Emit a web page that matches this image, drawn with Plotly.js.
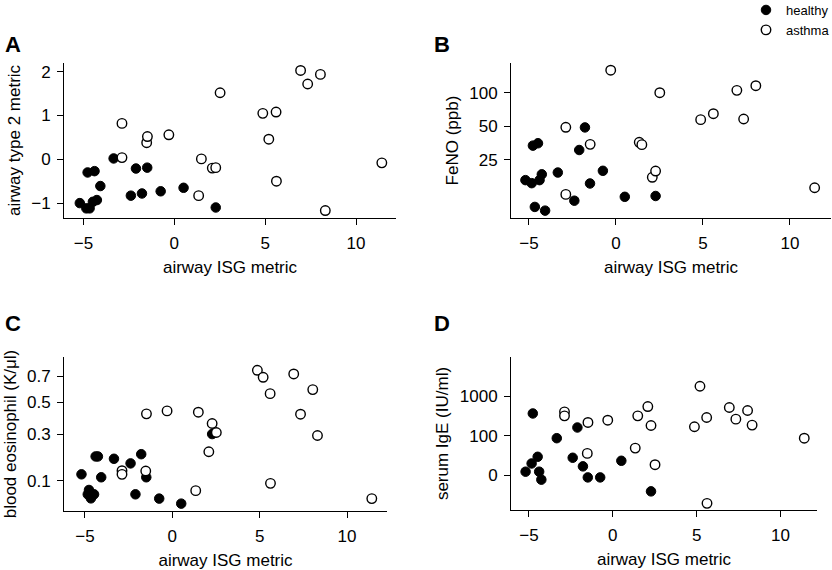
<!DOCTYPE html>
<html>
<head>
<meta charset="utf-8">
<script src="https://cdn.plot.ly/plotly-3.0.1.min.js"></script>
<style>
html,body{margin:0;padding:0;background:#fff;}
#chart{width:832px;height:570px;}
</style>
</head>
<body>
<div id="chart"></div>
<script>
// ---- data ----
var groups = ["healthy", "asthma"];

// airway ISG metric (x, shared by all panels)
var healthyISG = [-5.2, -4.84, -4.77, -4.66, -4.48, -4.39, -4.26, -4.07, -3.34, -2.39, -2.11, -1.78, -1.49, -0.75, 0.51, 2.28];
var asthmaISG  = [-2.88, -2.88, -1.52, -1.48, -0.3, 1.34, 1.49, 2.09, 2.28, 2.52, 4.87, 5.2, 5.6, 5.62, 6.95, 7.34, 8.04, 8.31, 11.42];

// A: airway type 2 metric
var healthyT2 = [-1.0, -1.12, -0.30, -1.12, -0.97, -0.27, -0.93, -0.61, 0.02, -0.83, -0.21, -0.78, -0.19, -0.73, -0.65, -1.10];
var asthmaT2  = [0.82, 0.04, 0.38, 0.52, 0.56, -0.83, 0.01, -0.20, -0.19, 1.52, 1.05, 0.46, 1.08, -0.50, 2.03, 1.72, 1.94, -1.17, -0.08];

// B: FeNO (ppb)
var healthyFeNO = [16.5, 15.5, 33.6, 9.5, 35.3, 16.5, 18.6, 8.8, 19.3, 10.8, 30.7, 48.9, 15.4, 20.0, 11.7, 11.9];
var asthmaFeNO  = [49, 12.3, null, 34.5, 159, 36, 34.3, 17.5, 19.9, 100, 57.4, null, 64.9, null, 105, 58.2, 115.5, null, 14.1];

// C: blood eosinophil (K/ul)
var healthyEos = [0.121, 0.0616, 0.0728, 0.052, 0.0616, 0.191, 0.191, 0.111, 0.181, 0.162, 0.0616, 0.201, 0.111, 0.0514, 0.0407, 0.301];
var asthmaEos  = [0.1339, 0.121, 0.1327, 0.4217, 0.4413, 0.071, 0.4326, 0.212, 0.3616, 0.3097, 0.751, 0.692, 0.563, 0.0917, 0.72, 0.4195, 0.5935, 0.2933, 0.0514];

// D: serum IgE (IU/ml), on the figure's log display scale
var healthyIgE = [12.4, 20, 366, null, 29.5, 12.4, 7.8, null, 87, 27.9, 162, 16.9, 8.9, 8.9, 23.4, 3.95];
var asthmaIgE  = [403, 319, 35.9, 217, 248, 48.9, 319, 548, 182, 18.6, 169, 1786, 290, 1.97, 518, 263, 436, 186, 87];

// tick labels
var xTicks = [-5, 0, 5, 10];
var t2Ticks = [-1, 0, 1, 2];
var fenoTicks = [25, 50, 100];
var eosTicks = [0.1, 0.3, 0.5, 0.7];
var igeTickVals = [10, 100, 1000];
var igeTickText = ["0", "100", "1000"];

// ---- drawing ----
var W = 832, H = 570;
function xd(a, b) { return [a / W, b / W]; }
function yd(top, bottom) { return [(H - bottom) / H, (H - top) / H]; }

var FONT = "Liberation Sans, Arial, Helvetica, sans-serif";
var MS = 9.5;

function mk(g) {
  if (g === "healthy") return {symbol: "circle", size: MS, color: "#000", line: {color: "#000", width: 1}};
  return {symbol: "circle", size: MS, color: "#fff", line: {color: "#000", width: 1.4}};
}

var sqrt = function (v) { return v === null ? null : Math.sqrt(v); };

var traces = [];
function add(xa, ya, hx, hy, ax, ay, show) {
  traces.push({type: "scatter", mode: "markers", name: groups[0], x: hx, y: hy, xaxis: ax, yaxis: ay,
    marker: mk("healthy"), showlegend: show, cliponaxis: false});
  traces.push({type: "scatter", mode: "markers", name: groups[1], x: xa, y: ya, xaxis: ax, yaxis: ay,
    marker: mk("asthma"), showlegend: show, cliponaxis: false});
}
add(asthmaISG, asthmaT2, healthyISG, healthyT2, "x", "y", true);
add(asthmaISG, asthmaFeNO, healthyISG, healthyFeNO, "x2", "y2", false);
add(asthmaISG, asthmaEos.map(sqrt), healthyISG, healthyEos.map(sqrt), "x3", "y3", false);
add(asthmaISG, asthmaIgE, healthyISG, healthyIgE, "x4", "y4", false);

function xaxis(dom, rng, anchor) {
  return {domain: dom, range: rng, anchor: anchor, showline: true, linecolor: "#000", linewidth: 1,
    ticks: "outside", ticklen: 6, tickwidth: 1, tickcolor: "#000", tickmode: "array", tickvals: xTicks,
    showgrid: false, zeroline: false, tickfont: {family: FONT, size: 17, color: "#000"},
    ticklabelstandoff: 4,
    title: {text: "airway ISG metric", font: {family: FONT, size: 17, color: "#000"}, standoff: 8}};
}
function yaxis(dom, rng, anchor, extra, title) {
  var a = {domain: dom, range: rng, anchor: anchor, showline: true, linecolor: "#000", linewidth: 1,
    ticks: "outside", ticklen: 6, tickwidth: 1, tickcolor: "#000", tickmode: "array",
    showgrid: false, zeroline: false, tickfont: {family: FONT, size: 17, color: "#000"},
    ticklabelstandoff: 3,
    title: {text: title, font: {family: FONT, size: 17, color: "#000"}, standoff: 6}};
  for (var k in extra) a[k] = extra[k];
  return a;
}

var layout = {
  width: W, height: H, margin: {l: 0, r: 0, t: 0, b: 0, autoexpand: false},
  paper_bgcolor: "#fff", plot_bgcolor: "#fff",
  font: {family: FONT, size: 17, color: "#000"},
  xaxis: xaxis(xd(64, 396), [-6.07, 12.2], "y"),
  yaxis: yaxis(yd(63, 218), [-1.34, 2.2], "x", {tickvals: t2Ticks}, "airway type 2 metric"),
  xaxis2: xaxis(xd(511, 831), [-6.03, 12.36], "y2"),
  yaxis2: yaxis(yd(63, 218), [Math.log10(7.56), Math.log10(184.5)], "x2", {type: "log", tickvals: fenoTicks, ticktext: fenoTicks.map(String)}, "FeNO (ppb)"),
  xaxis3: xaxis(xd(64, 387), [-6.2, 12.29], "y3"),
  yaxis3: yaxis(yd(357, 511), [0.165, 0.933], "x3", {tickvals: eosTicks.map(Math.sqrt), ticktext: eosTicks.map(String)}, "blood eosinophil (K/\u03bcl)"),
  xaxis4: xaxis(xd(511, 817), [-6.07, 12.18], "y4"),
  yaxis4: yaxis(yd(357, 510), [0.126, 3.99], "x4", {type: "log", tickvals: igeTickVals, ticktext: igeTickText}, "serum IgE (IU/ml)"),
  showlegend: true,
  legend: {x: 746 / W, y: 1 + 5 / H, xanchor: "left", yanchor: "top", bgcolor: "rgba(0,0,0,0)",
    font: {family: FONT, size: 13, color: "#000"}, itemwidth: 30, tracegroupgap: 0},
  annotations: [
    {text: "<b>A</b>", x: 3 / W, y: 1 - 44 / H},
    {text: "<b>B</b>", x: 432 / W, y: 1 - 44 / H},
    {text: "<b>C</b>", x: 3 / W, y: 1 - 323 / H},
    {text: "<b>D</b>", x: 432 / W, y: 1 - 323 / H}
  ].map(function (a) {
    a.xref = "paper"; a.yref = "paper"; a.xanchor = "left"; a.yanchor = "middle"; a.showarrow = false;
    a.font = {family: FONT, size: 22, color: "#000"};
    return a;
  })
};

Plotly.newPlot("chart", traces, layout, {staticPlot: true, displayModeBar: false});
</script>
</body>
</html>
